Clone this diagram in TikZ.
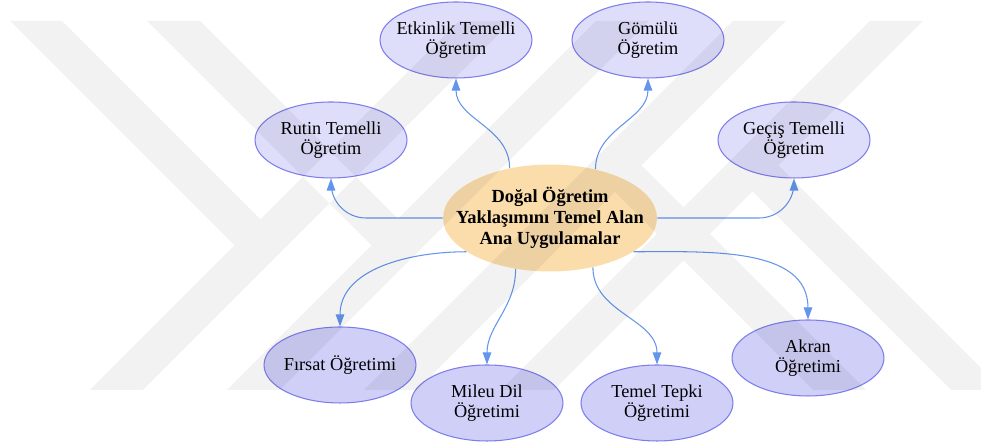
\documentclass[tikz,border=0pt]{standalone}
\usepackage{fontspec}
\setmainfont{Liberation Serif}
\usetikzlibrary{shapes.geometric,arrows.meta}
\definecolor{leaflight}{RGB}{222,222,251}
\definecolor{leafdark}{RGB}{207,207,248}
\definecolor{leafline}{RGB}{125,125,235}
\definecolor{hubpeach}{RGB}{251,221,171}
\definecolor{linkblue}{RGB}{100,149,237}

\begin{document}
\begin{tikzpicture}[x=0.02cm, y=0.02cm,
    leaf/.style={ellipse, draw=leafline, line width=0.6pt, minimum width=3.04cm, minimum height=1.52cm,
        inner xsep=-4pt, inner ysep=0pt, align=center, font=\fontsize{10.4}{11}\selectfont},
    hub/.style={ellipse, fill=hubpeach, minimum width=4.28cm, minimum height=2.14cm,
        inner xsep=-12pt, inner ysep=0pt, align=center, font=\fontsize{10.5}{12}\selectfont\bfseries},
    link/.style={linkblue, line width=0.6pt, -{Triangle[length=0.24cm, width=0.17cm]}}]
    \useasboundingbox (0,0) rectangle (981,448);

    % Central idea
    \node[hub] (hub) at (550,230) {Doğal Öğretim\\Yaklaşımını Temel Alan\\Ana Uygulamalar};

    % Upper practices
    \foreach \nm/\x/\y/\txt in {etkinlik/456/408/{Etkinlik Temelli\\Öğretim}, gomulu/648/408/{Gömülü\\Öğretim},
        rutin/331/308/{Rutin Temelli\\Öğretim}, gecis/794/308/{Geçiş Temelli\\Öğretim}} {
        \node[leaf, fill=leaflight] (\nm) at (\x,\y) {\txt};
    }

    % Lower practices
    \foreach \nm/\x/\y/\txt in {firsat/340/83/{Fırsat Öğretimi}, mileu/487/45/{Mileu Dil\\Öğretimi},
        tepki/657/45/{Temel Tepki\\Öğretimi}, akran/808/90/{Akran\\Öğretimi}} {
        \node[leaf, fill=leafdark] (\nm) at (\x,\y) {\txt};
    }

    % Links from the centre
    \foreach \ang/\nm in {129/etkinlik, 47/gomulu} {
        \draw[link] (hub.\ang) to[out=90, in=-90] (\nm.south);
    }
    \foreach \ang/\nm in {236/mileu, 311/tepki} {
        \draw[link] (hub.\ang) to[out=-90, in=90] (\nm.north);
    }
    \draw[link] (hub.202) to[out=180, in=90] (firsat.north);
    \draw[link] (hub.338) to[out=0, in=90] (akran.north);
    \draw[link, rounded corners=0.7cm] (hub.west) -| (rutin.south);
    \draw[link, rounded corners=0.7cm] (hub.east) -| (gecis.south);

    % Watermark
    \begin{scope}
        \clip (0,0) rectangle (981,448);
        \fill[black, fill opacity=0.05]
            (90,58) -- (143,58) -- (512,427) -- (459,427) -- cycle
            (227,58) -- (280,58) -- (649,427) -- (596,427) -- cycle
            (10,427) -- (62,427) -- (260.5,228.5) -- (234.5,202.5) -- cycle
            (147,427) -- (200,427) -- (398,229) -- (371.5,202.5) -- cycle
            (364,58) -- (417,58) -- (786,427) -- (733,427) -- cycle
            (501,58) -- (554,58) -- (923,427) -- (870,427) -- cycle
            (951,58) -- (1003,58) -- (778.5,282.5) -- (752.5,256.5) -- cycle
            (813,58) -- (866,58) -- (641.5,282.5) -- (615,256) -- cycle;
    \end{scope}
\end{tikzpicture}
\end{document}
